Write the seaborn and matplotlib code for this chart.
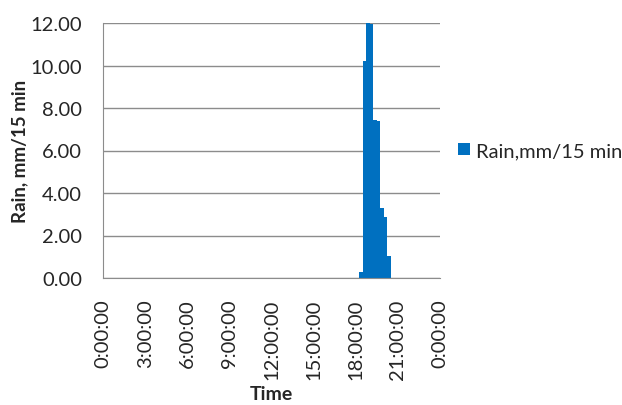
import numpy as np
import pandas as pd
import matplotlib
matplotlib.use("Agg")
import matplotlib.pyplot as plt
import seaborn as sns

# 15-min rain totals (hours of day, start of interval)
times = [18.25, 18.5, 18.75, 19.0, 19.25, 19.5, 19.75, 20.0, 20.25]
rain = [0.30, 10.20, 12.00, 11.95, 7.45, 7.40, 3.30, 2.85, 1.05]
tick_hours = [0, 3, 6, 9, 12, 15, 18, 21, 24]
tick_labels = ["0:00:00", "3:00:00", "6:00:00", "9:00:00", "12:00:00",
               "15:00:00", "18:00:00", "21:00:00", "0:00:00"]
yticks = [0, 2, 4, 6, 8, 10, 12]

df = pd.DataFrame({"hour": times, "rain": rain})

sns.set_style("white")
plt.rcParams["font.family"] = ["Lato", "DejaVu Sans"]

fig = plt.figure(figsize=(6.22, 4.06), dpi=100)
ax = fig.add_axes([103 / 622, 1 - 279 / 406, 337 / 622, 255 / 406])

sns.histplot(data=df, x="hour", weights="rain", binwidth=0.25, binrange=(0, 24),
             color="#0070C0", alpha=1, linewidth=0, ax=ax,
             label="Rain,mm/15 min")

ax.set_xlim(0, 24)
ax.set_ylim(0, 12)
ax.set_xticks(tick_hours)
ax.set_xticklabels(tick_labels, rotation=90, fontsize=14.5)
ax.set_yticks(yticks)
ax.set_yticklabels([f"{v:.2f}" for v in yticks], fontsize=14.5)
ax.yaxis.grid(True, color="#8c8c8c", linewidth=1)
ax.set_axisbelow(True)
for s in ["top", "right"]:
    ax.spines[s].set_visible(False)
for s in ["left", "bottom"]:
    ax.spines[s].set_color("#8c8c8c")
ax.tick_params(axis="y", direction="inout", length=6, color="#8c8c8c", pad=12)
ax.tick_params(axis="x", direction="out", length=3.5, color="#8c8c8c", pad=11)
ax.set_xlabel("Time", fontsize=14, fontweight="bold", labelpad=5)
ax.set_ylabel("Rain, mm/15 min", fontsize=13.5, fontweight="bold", labelpad=2)

ax.legend(loc="center left", bbox_to_anchor=(1.0, 0.5), frameon=False,
          fontsize=14.5, handlelength=0.6, handleheight=0.6, handletextpad=0.3,
          borderaxespad=0.5)

fig.savefig("out.png", dpi=100)
